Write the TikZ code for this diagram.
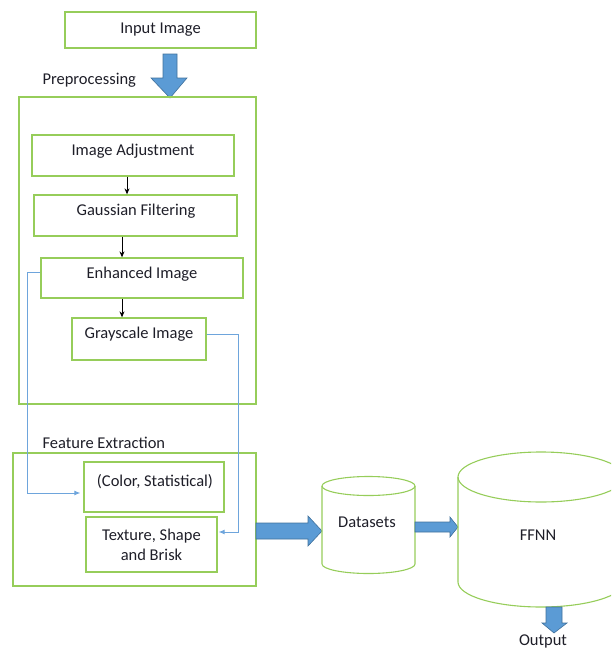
\documentclass[tikz,border=0pt]{standalone}
\usepackage{fontspec}
\setmainfont{Carlito}
\usetikzlibrary{arrows.meta,calc}
\definecolor{boxgreen}{RGB}{150,205,90}
\definecolor{arrowblue}{RGB}{91,155,213}
\definecolor{arrowedge}{RGB}{65,113,156}
\definecolor{linkblue}{RGB}{110,165,220}
\definecolor{txt}{RGB}{30,30,40}
\begin{document}
\begin{tikzpicture}[x=1pt,y=-1pt,
  every node/.style={font=\fontsize{16.5}{20}\selectfont, text=txt},
  gbox/.style={draw=boxgreen, line width=1.3pt, inner sep=0pt},
  blockarrow/.style={fill=arrowblue, draw=arrowedge, line width=0.6pt, line join=miter},
  flow/.style={-{Stealth[length=6pt,width=5pt]}, line width=1pt, black},
  link/.style={-{Latex[length=6pt,width=5pt]}, line width=0.9pt, linkblue},
  cyl/.style={draw=boxgreen, line width=1.1pt}]
\useasboundingbox (0,0) rectangle (611,648);
\clip (0,0) rectangle (611,648);

% Input
\node[gbox, minimum width=191pt, minimum height=36pt] (in) at (160.5,30) {Input Image};

% big down arrow
\draw[blockarrow] (163,54) -- (177,54) -- (177,78) -- (187,78) -- (170,98) -- (151,78) -- (163,78) -- cycle;

% Preprocessing
\node[anchor=west] (pplab) at (39,80) {Preprocessing};
\node[gbox, minimum width=237pt, minimum height=307pt] (pp) at (137.5,250.5) {};

\node[gbox, minimum width=202pt, minimum height=41pt] (ia) at (133,155.5) {};
\node (iat) at (133,151) {Image Adjustment};
\node[gbox, minimum width=203pt, minimum height=41pt] (gf) at (135.5,215.5) {};
\node (gft) at (136,211) {Gaussian Filtering};
\node[gbox, minimum width=202pt, minimum height=40pt] (eh) at (142,278) {};
\node (eht) at (142,274) {Enhanced Image};
\node[gbox, minimum width=134pt, minimum height=42pt] (gs) at (139,339) {};
\node (gst) at (139,334) {Grayscale Image};

\draw[flow] ([xshift=-6pt]ia.south) -- ([xshift=-6pt]ia.south |- gf.north);
\draw[flow] ([xshift=-13.5pt]gf.south) -- ([xshift=-13.5pt]gf.south |- eh.north);
\draw[flow] ([xshift=-20pt]eh.south) -- ([xshift=-20pt]eh.south |- gs.north);

% Feature extraction
\node[anchor=west] (felab) at (39,443) {Feature Extraction};
\node[gbox, minimum width=243pt, minimum height=133pt] (fe) at (134.5,519.5) {};
\node[gbox, minimum width=140pt, minimum height=50pt] (col) at (154,487) {};
\node (colt) at (155,482) {(Color, Statistical)};
\node[gbox, minimum width=131pt, minimum height=55pt, align=center] (tex) at (151.5,544.5) {Texture, Shape\\and Brisk};

\draw[link] ([yshift=6pt]eh.west) -- ++(-13pt,0) |- ([xshift=-3pt,yshift=-6pt]col.west);
\draw[link] ([yshift=5pt]gs.east) -- ++(32pt,0) |- ([xshift=1pt,yshift=12.5pt]tex.east);

% arrow to datasets
\draw[blockarrow] (256,523) -- (308,523) -- (308,516) -- (322,531) -- (308,546) -- (308,539) -- (256,539) -- cycle;

% Datasets cylinder
\draw[cyl] (322,486) -- (322,564) arc[start angle=180, end angle=0, x radius=46.5, y radius=9.5] -- (415,486);
\draw[cyl] (368.5,486) ellipse[x radius=46.5, y radius=9.5];
\node (ds) at (367,522) {Datasets};

% arrow to FFNN
\draw[blockarrow] (415,522) -- (450,522) -- (450,517) -- (458,527) -- (450,537) -- (450,532) -- (415,532) -- cycle;

% FFNN cylinder
\draw[cyl] (458,477) -- (458,582) arc[start angle=180, end angle=0, x radius=83, y radius=25] -- (624,477);
\draw[cyl] (541,477) ellipse[x radius=83, y radius=25];
\node (nn) at (538,535) {FFNN};

% output arrow
\draw[blockarrow] (546,607) -- (562,607) -- (562,623) -- (567,623) -- (554,633) -- (542,623) -- (546,623) -- cycle;
\node (out) at (543,641) {Output};
\end{tikzpicture}
\end{document}
